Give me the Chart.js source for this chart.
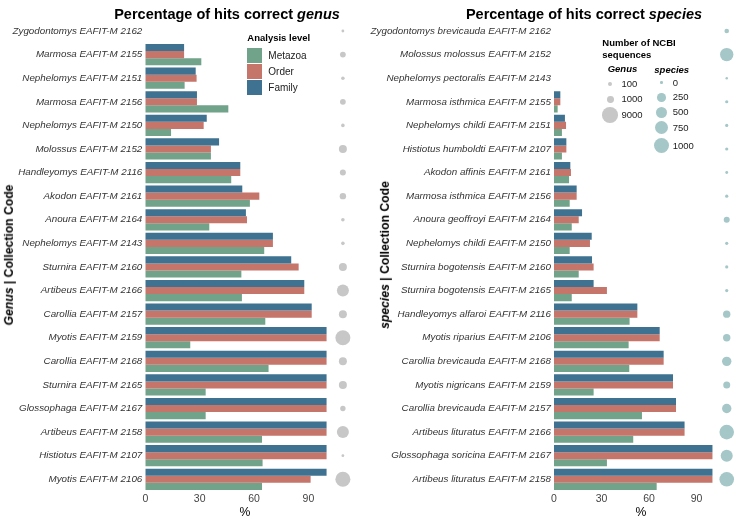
<!DOCTYPE html>
<html><head><meta charset="utf-8">
<script src="https://cdn.jsdelivr.net/npm/chart.js@4"></script>
<style>
body{margin:0;background:#fff;width:740px;height:519px;overflow:hidden;position:relative;font-family:"Liberation Sans",Arial,sans-serif;}
canvas{position:absolute;top:0}
.t{position:absolute;white-space:nowrap;color:#000;line-height:1}
.ttl{font-size:14.5px;font-weight:bold}
.ax{font-size:12.2px;font-weight:bold}
.lg{font-size:9.5px;color:#222}
.lgt{font-size:9.5px;font-weight:bold;color:#000}
.box{position:absolute;width:15px;height:14.5px}
.dot{position:absolute;border-radius:50%}
</style></head><body>
<canvas id="c1" width="370" height="519" style="left:0"></canvas>
<canvas id="c2" width="370" height="519" style="left:370px"></canvas>
<div id="ov"></div>
<script>
// ---------- DATA ----------
const genusLabels = ["Zygodontomys EAFIT-M 2162","Marmosa EAFIT-M 2155","Nephelomys EAFIT-M 2151","Marmosa EAFIT-M 2156","Nephelomys EAFIT-M 2150","Molossus EAFIT-M 2152","Handleyomys EAFIT-M 2116","Akodon EAFIT-M 2161","Anoura EAFIT-M 2164","Nephelomys EAFIT-M 2143","Sturnira EAFIT-M 2160","Artibeus EAFIT-M 2166","Carollia EAFIT-M 2157","Myotis EAFIT-M 2159","Carollia EAFIT-M 2168","Sturnira EAFIT-M 2165","Glossophaga EAFIT-M 2167","Artibeus EAFIT-M 2158","Histiotus EAFIT-M 2107","Myotis EAFIT-M 2106"];
const genusFamily  = [0,21.4,27.8,28.5,33.9,40.7,52.4,53.5,55.5,70.4,80.5,87.7,91.8,100,100,100,100,100,100,100];
const genusOrder   = [0,21.4,28.3,28.5,32.2,36.2,52.4,62.9,56.1,70.4,84.6,87.7,91.8,100,100,100,100,100,100,91.2];
const genusMetazoa = [0,30.9,21.7,45.8,14.2,36.2,47.4,57.7,35.3,65.6,53.0,53.3,66.2,24.8,68.0,33.3,33.3,64.4,64.7,64.4];
const genusSeqs    = [5,560,60,560,60,1560,630,790,60,60,1560,4660,1560,8070,1560,1560,430,4660,5,8070];

const speciesLabels = ["Zygodontomys brevicauda EAFIT-M 2162","Molossus molossus EAFIT-M 2152","Nephelomys pectoralis EAFIT-M 2143","Marmosa isthmica EAFIT-M 2155","Nephelomys childi EAFIT-M 2151","Histiotus humboldti EAFIT-M 2107","Akodon affinis EAFIT-M 2161","Marmosa isthmica EAFIT-M 2156","Anoura geoffroyi EAFIT-M 2164","Nephelomys childi EAFIT-M 2150","Sturnira bogotensis EAFIT-M 2160","Sturnira bogotensis EAFIT-M 2165","Handleyomys alfaroi EAFIT-M 2116","Myotis riparius EAFIT-M 2106","Carollia brevicauda EAFIT-M 2168","Myotis nigricans EAFIT-M 2159","Carollia brevicauda EAFIT-M 2157","Artibeus lituratus EAFIT-M 2166","Glossophaga soricina EAFIT-M 2167","Artibeus lituratus EAFIT-M 2158"];
const speciesFamily  = [0,0,0,4.0,6.9,7.8,10.3,14.3,17.7,23.8,24.0,25.0,52.6,66.7,69.2,75.1,77.0,82.4,100,100];
const speciesOrder   = [0,0,0,4.0,7.6,7.8,10.7,14.3,15.6,22.7,25.0,33.4,52.6,66.7,69.2,75.1,77.0,82.4,100,100];
const speciesMetazoa = [0,0,0,2.3,5.0,5.0,9.5,9.9,11.2,9.9,15.6,11.2,47.7,47.1,47.5,25.0,55.5,50.0,33.4,64.8];
const speciesSeqs    = [28,760,0,3,3,3,1,3,78,3,3,3,154,154,305,130,305,940,580,940];

const xTicks = [0,30,60,90];
const levelNames = ["Metazoa","Order","Family"];
const genusSizeBreaks = [100,1000,9000];
const speciesSizeBreaks = [0,250,500,750,1000];

// ---------- STYLE ----------
const C_MET = '#71a28a', C_ORD = '#c6756b', C_FAM = '#3f7290';
const levelColors = {Metazoa:C_MET, Order:C_ORD, Family:C_FAM};
const DOT_GENUS = '#c7c7c7', DOT_SPECIES = '#a5c7c7';
const FONT = '"Liberation Sans", Arial, sans-serif';
const rGenus = v => 1.25 + 6.6*Math.sqrt(v/9000);
const rSpecies = v => 1.25 + 6.25*Math.sqrt(v/1000);
const DOT_X = 109;
const AREA_BOTTOM = 491.1;

function makeChart(id, labels, fam, ord, met, seqs, rFn, dotColor, xMax, yW, padR){
  return new Chart(document.getElementById(id), {
    type:'bar',
    data:{labels:labels, datasets:[
      {label:'Family', data:fam, backgroundColor:C_FAM},
      {label:'Order', data:ord, backgroundColor:C_ORD},
      {label:'Metazoa', data:met, backgroundColor:C_MET},
      {type:'scatter', label:'n', data:seqs.map((v,i)=>({x:DOT_X, y:labels[i]})),
       pointRadius:seqs.map(rFn), pointHoverRadius:seqs.map(rFn),
       backgroundColor:dotColor, borderWidth:0, pointBorderWidth:0, clip:false}
    ]},
    options:{
      indexAxis:'y', responsive:false, animation:false, events:[],
      layout:{autoPadding:false, padding:{top:19.2, right:padR, left:0, bottom:0}},
      datasets:{bar:{categoryPercentage:0.9, barPercentage:1.0, borderWidth:0}},
      plugins:{legend:{display:false}, tooltip:{enabled:false}},
      scales:{
        x:{type:'linear', min:0, max:xMax,
           grid:{display:false, drawTicks:false}, border:{display:false},
           afterBuildTicks:s=>{s.ticks = xTicks.map(v=>({value:v}));},
           afterFit:s=>{s.height = 519-AREA_BOTTOM; s.paddingLeft = 0; s.paddingRight = 0;},
           ticks:{padding:2, font:{size:10.5, family:FONT}, color:'#444'}},
        y:{type:'category', grid:{display:false, drawTicks:false}, border:{display:false},
           afterFit:s=>{s.width = yW; s.paddingTop = 0; s.paddingBottom = 0;},
           ticks:{padding:3, autoSkip:false, font:{size:9.8, style:'italic', family:FONT}, color:'#333'}}
      }
    }
  });
}
makeChart('c1', genusLabels, genusFamily, genusOrder, genusMetazoa, genusSeqs, rGenus, DOT_GENUS, 118, 145.3, 10.8);
makeChart('c2', speciesLabels, speciesFamily, speciesOrder, speciesMetazoa, speciesSeqs, rSpecies, DOT_SPECIES, 117, 184, 0.6);

// ---------- overlay texts & legends ----------
const ov = document.getElementById('ov');
function add(html, cls, x, y, extra){
  const d = document.createElement('div');
  d.className = 't ' + cls; d.innerHTML = html;
  d.style.left = x+'px'; d.style.top = y+'px';
  if (extra) Object.assign(d.style, extra);
  ov.appendChild(d); return d;
}
add('Percentage of hits correct <i>genus</i>', 'ttl', 227, 14, {transform:'translate(-50%,-50%)'});
add('Percentage of hits correct <i>species</i>', 'ttl', 584, 14, {transform:'translate(-50%,-50%)'});
add('<i>Genus</i> | Collection Code', 'ax', 8.5, 255, {transform:'translate(-50%,-50%) rotate(-90deg)'});
add('<i>species</i> | Collection Code', 'ax', 385, 255, {transform:'translate(-50%,-50%) rotate(-90deg)'});
add('%', '', 245, 512, {transform:'translate(-50%,-50%)', fontSize:'12.2px'});
add('%', '', 641, 512, {transform:'translate(-50%,-50%)', fontSize:'12.2px'});

add('Analysis level', 'lgt', 247.3, 38.3, {transform:'translateY(-50%)'});
levelNames.forEach((n,i)=>{
  const y = 48 + i*16;
  const b = document.createElement('div'); b.className='box';
  b.style.left='247.3px'; b.style.top=y+'px'; b.style.background=levelColors[n];
  ov.appendChild(b);
  add(n, 'lg', 268.3, y+7.5, {transform:'translateY(-50%)', fontSize:'10px'});
});

add('Number of NCBI<br>sequences', 'lgt', 602.3, 37, {lineHeight:'11.5px'});
add('<i>Genus</i>', 'lgt', 607.7, 69.3, {transform:'translateY(-50%)'});
add('<i>species</i>', 'lgt', 654.3, 70, {transform:'translateY(-50%)'});
function dot(cx, cy, r, col){
  const d = document.createElement('div'); d.className='dot';
  d.style.left=(cx-r)+'px'; d.style.top=(cy-r)+'px';
  d.style.width=(2*r)+'px'; d.style.height=(2*r)+'px'; d.style.background=col;
  ov.appendChild(d);
}
const gY = [84.3, 99.3, 115];
genusSizeBreaks.forEach((v,i)=>{
  dot(610.3, gY[i], rGenus(v), DOT_GENUS);
  add(String(v), 'lg', 621.5, gY[i], {transform:'translateY(-50%)'});
});
const sY = [82.7, 97.3, 112.3, 127.7, 145.7];
speciesSizeBreaks.forEach((v,i)=>{
  dot(661.7, sY[i], rSpecies(v), DOT_SPECIES);
  add(String(v), 'lg', 672.7, sY[i], {transform:'translateY(-50%)'});
});
</script>
</body></html>
